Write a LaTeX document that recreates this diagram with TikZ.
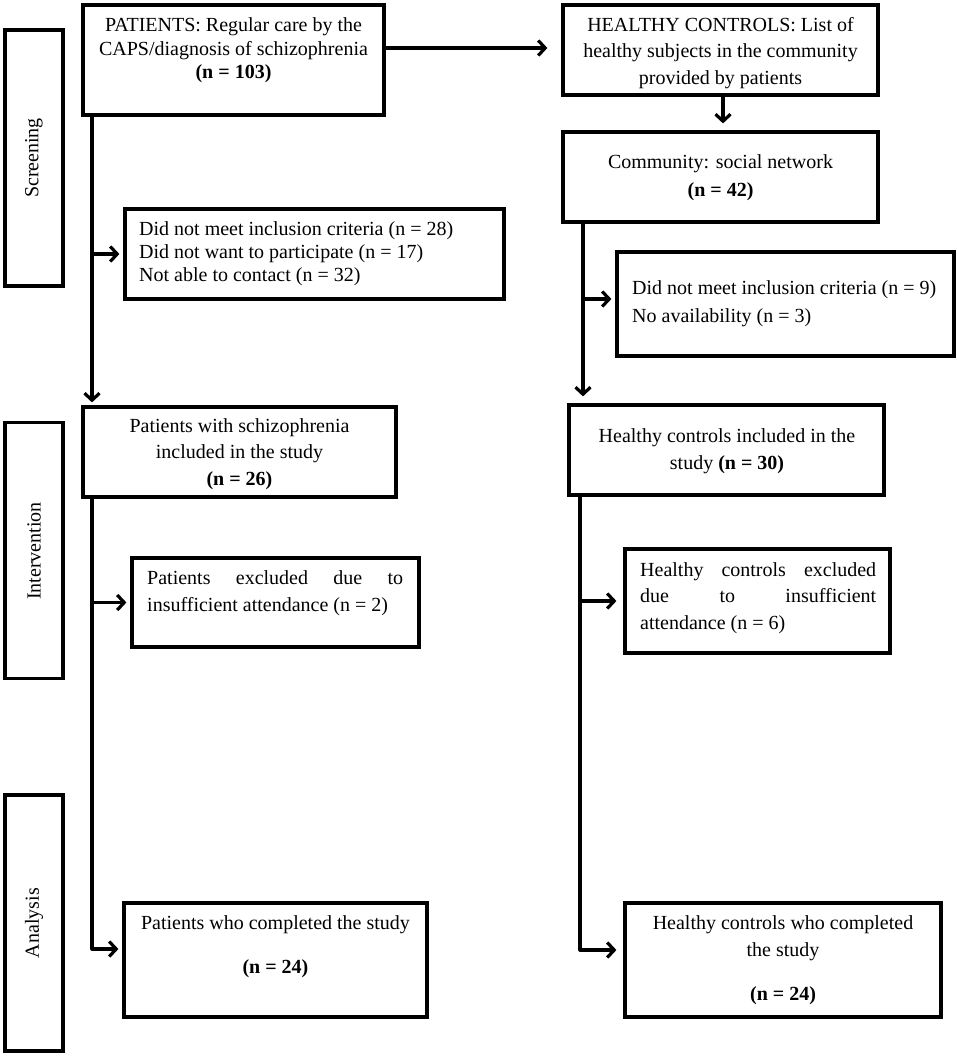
\documentclass[tikz,border=0pt]{standalone}
\usepackage{fontspec}
\setmainfont{Liberation Serif}
\usetikzlibrary{arrows.meta}
\tikzset{
  box/.style={draw, line width=3.2pt, rectangle, inner sep=0pt},
  lane/.style={draw, line width=3.2pt, rectangle, inner sep=0pt, minimum width=58pt, minimum height=256pt},
  lanetxt/.style={inner sep=0pt, rotate=90, font=\fontsize{20}{24}\selectfont},
  txt/.style={inner sep=0pt, align=center},
  ltxt/.style={inner sep=0pt, align=left, anchor=west},
  arr/.style={line width=3.2pt, line join=round, -{Straight Barb[length=7pt,width=15pt]}, shorten >=4pt},
}
\newcommand{\fs}[1]{\fontsize{20}{#1}\selectfont}
\begin{document}
\begin{tikzpicture}[x=1pt,y=-1pt]
\useasboundingbox (0,0) rectangle (957,1056);
% lanes
\node[lane] (scr) at (34,158) {};
\node[lanetxt] (scrt) at (34,158) {Screening};
\node[lane] (int) at (34,550.5) {};
\node[lanetxt] (intt) at (34,551) {Intervention};
\node[lane] (ana) at (34,923) {};
\node[lanetxt] (anat) at (34,923) {Analysis};
% boxes
\node[box, minimum width=301pt, minimum height=110pt] (p) at (233.5,60) {};
\node[box, minimum width=315pt, minimum height=90pt] (hc) at (720.5,50) {};
\node[box, minimum width=315pt, minimum height=90pt] (comm) at (720.5,177) {};
\node[box, minimum width=379pt, minimum height=90pt] (e1) at (314.5,254) {};
\node[box, minimum width=337pt, minimum height=104pt] (e2) at (785.5,304) {};
\node[box, minimum width=313pt, minimum height=90pt] (pinc) at (239.5,452) {};
\node[box, minimum width=315pt, minimum height=90pt] (hcinc) at (726.5,450) {};
\node[box, minimum width=287pt, minimum height=89pt] (pexc) at (275.5,602.5) {};
\node[box, minimum width=265pt, minimum height=104pt] (hcexc) at (757.5,601) {};
\node[box, minimum width=303pt, minimum height=114pt] (pcomp) at (275.5,960) {};
\node[box, minimum width=316pt, minimum height=114pt] (hccomp) at (783,960) {};
% texts
\node[txt, font=\fs{23.5}] (pt) at (233.5,50.5) {PATIENTS: Regular care by the\\CAPS/diagnosis of schizophrenia\\\textbf{(n = 103)}};
\node[txt, font=\fs{26.5}] (hct) at (720.5,53) {HEALTHY CONTROLS: List of\\healthy subjects in the community\\provided by patients};
\node[txt, font=\fs{28}] (commt) at (720.5,178) {Community: social network\\\textbf{(n = 42)}};
\node[ltxt, font=\fs{23}] (e1t) at (139,254) {Did not meet inclusion criteria (n = 28)\\Did not want to participate (n = 17)\\Not able to contact (n = 32)};
\node[ltxt, font=\fs{28}] (e2t) at (632,304) {Did not meet inclusion criteria (n = 9)\\No availability (n = 3)};
\node[txt, font=\fs{26.5}] (pinct) at (239.5,454) {Patients with schizophrenia\\included in the study\\\textbf{(n = 26)}};
\node[txt, font=\fs{27}] (hcinct) at (727,451) {Healthy controls included in the\\study \textbf{(n = 30)}};
\node[ltxt, font=\fs{27}] (pexct) at (147,593.5) {\makebox[256pt][s]{Patients excluded due to}\\insufficient attendance (n = 2)};
\node[ltxt, font=\fs{26.5}] (hcexct) at (640,598) {\makebox[236pt][s]{Healthy controls excluded}\\\makebox[236pt][s]{due to insufficient}\\attendance (n = 6)};
\node[txt, font=\fs{24}] (pcompt) at (275.5,947) {Patients who completed the study\\[20pt]\textbf{(n = 24)}};
\node[txt, font=\fs{27}] (hccompt) at (783,960.5) {Healthy controls who completed\\the study\\[17pt]\textbf{(n = 24)}};
% connector helpers
\coordinate (L) at (92,0);
\coordinate (R1) at (583,0);
\coordinate (R2) at (580,0);
\coordinate (top) at (0,48);
\coordinate (pcin) at ([yshift=11pt]pcomp.west);
\coordinate (hccin) at ([yshift=10pt]hccomp.west);
\coordinate (e2in) at ([yshift=5pt]e2.west);
% connectors
\draw[arr, shorten >=14pt] (p.east |- top) -- (hc.west |- top);
\draw[arr, shorten >=7pt] (hc.south -| 723,0) -- (comm.north -| 723,0);
\draw[arr, shorten >=3pt] (p.south -| L) -- (pinc.north -| L);
\draw[arr] (L |- e1.west) -- (e1.west);
\draw[arr, shorten >=7pt] (comm.south -| R1) -- (hcinc.north -| R1);
\draw[arr] (R1 |- e2in) -- (e2in);
\draw[arr] (pinc.south -| L) -- (L |- pcin) -- (pcin);
\draw[arr] (L |- pexc.west) -- (pexc.west);
\draw[arr, shorten >=7pt] (hcinc.south -| R2) -- (R2 |- hccin) -- (hccin);
\draw[arr, shorten >=7pt] (R2 |- hcexc.west) -- (hcexc.west);
\end{tikzpicture}
\end{document}
